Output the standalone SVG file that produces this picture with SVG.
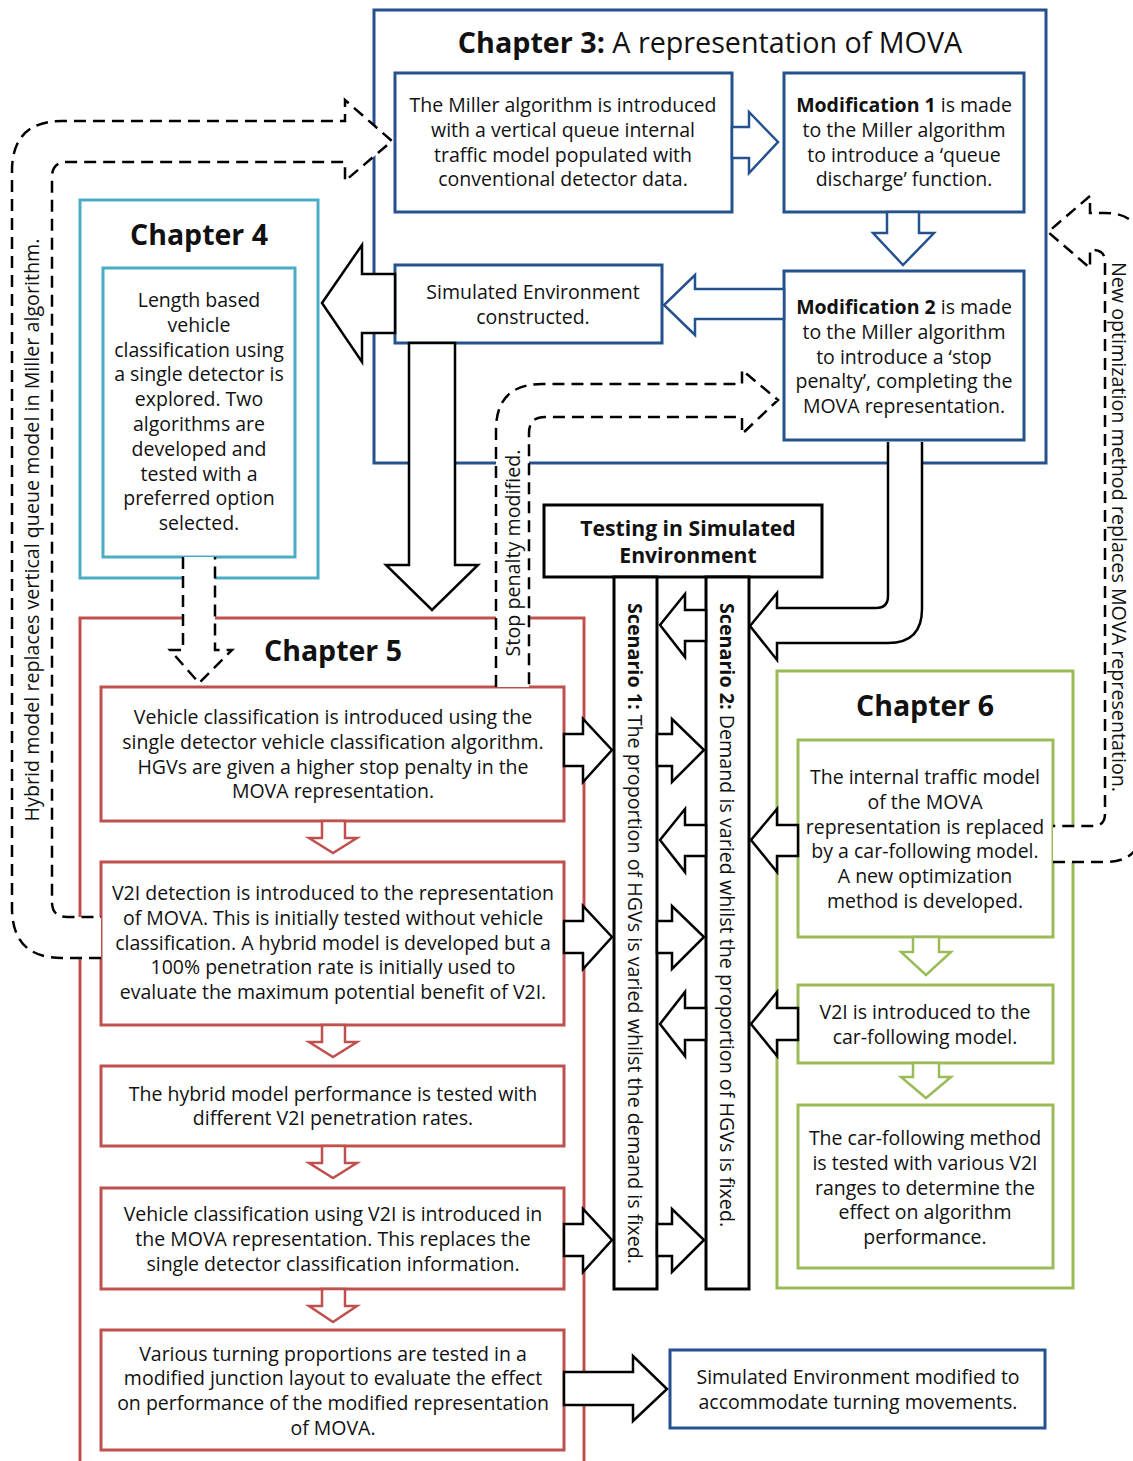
<svg xmlns="http://www.w3.org/2000/svg" width="1133" height="1461" viewBox="0 0 1133 1461">
  <style>
    text { font-family: "Open Sans", "Noto Sans", "DejaVu Sans", sans-serif; fill: #111; }
    .t { font-size: 19.5px; text-anchor: middle; }
    .b { font-weight: bold; }
    .title { font-size: 28.5px; font-weight: bold; text-anchor: middle; }
    .blue { fill: #fff; stroke: #25518f; stroke-width: 3; }
    .red { fill: #fff; stroke: #c0504d; stroke-width: 3; }
    .cyan { fill: #fff; stroke: #4bacc6; stroke-width: 3; }
    .green { fill: #fff; stroke: #9bbb59; stroke-width: 3; }
    .frame { fill: none; }
    .blk { fill: #fff; stroke: #000; stroke-width: 3; }
    .harrow { fill: #fff; stroke: #000; stroke-width: 2.5; stroke-linejoin: miter; }
    .barrow { fill: #fff; stroke: #25518f; stroke-width: 2.5; }
    .rarrow { fill: #fff; stroke: #c0504d; stroke-width: 2.5; }
    .garrow { fill: #fff; stroke: #9bbb59; stroke-width: 2.5; }
    .dash { fill: #fff; stroke: #000; stroke-width: 2.5; stroke-dasharray: 12 7; }
    .side { font-size: 19.7px; text-anchor: middle; }
    .scen { font-size: 19.7px; }
  </style>

  <rect width="1133" height="1461" fill="#fff"/>

  <!-- Chapter containers -->
  <g id="chapter3">
    <rect class="blue frame" x="374" y="10" width="672" height="453"/>
    <text x="710" y="53" font-size="28.7" text-anchor="middle"><tspan font-weight="bold">Chapter 3:</tspan> A representation of MOVA</text>
  </g>
  <g id="chapter4">
    <rect class="cyan frame" x="80" y="200" width="238" height="378"/>
    <text class="title" x="199" y="245">Chapter 4</text>
  </g>
  <g id="chapter5">
    <rect class="red frame" x="80" y="618" width="504" height="860"/>
    <text class="title" x="333" y="661">Chapter 5</text>
  </g>
  <g id="chapter6">
    <rect class="green frame" x="777" y="671" width="296" height="617"/>
    <text class="title" x="925" y="716">Chapter 6</text>
  </g>

  <!-- Chapter 3 steps -->
  <g id="miller">
    <rect class="blue" x="395" y="73" width="337" height="139"/>
    <text class="t" x="563" y="112">The Miller algorithm is introduced</text>
    <text class="t" x="563" y="136.8">with a vertical queue internal</text>
    <text class="t" x="563" y="161.6">traffic model populated with</text>
    <text class="t" x="563" y="186.4">conventional detector data.</text>
  </g>
  <g id="mod1">
    <rect class="blue" x="784" y="73" width="240" height="139"/>
    <text class="t" x="904" y="112"><tspan class="b">Modification 1</tspan> is made</text>
    <text class="t" x="904" y="136.8">to the Miller algorithm</text>
    <text class="t" x="904" y="161.6">to introduce a ‘queue</text>
    <text class="t" x="904" y="186.4">discharge’ function.</text>
  </g>
  <g id="mod2">
    <rect class="blue" x="784" y="271" width="240" height="169"/>
    <text class="t" x="904" y="314"><tspan class="b">Modification 2</tspan> is made</text>
    <text class="t" x="904" y="338.8">to the Miller algorithm</text>
    <text class="t" x="904" y="363.6">to introduce a ‘stop</text>
    <text class="t" x="904" y="388.4">penalty’, completing the</text>
    <text class="t" x="904" y="413.2">MOVA representation.</text>
  </g>
  <g id="simenv">
    <rect class="blue" x="395" y="265" width="267" height="78"/>
    <text class="t" x="533" y="299">Simulated Environment</text>
    <text class="t" x="533" y="324">constructed.</text>
  </g>

  <!-- Chapter 4 step -->
  <g id="ch4-classification">
    <rect class="cyan" x="103" y="268" width="192" height="289"/>
    <text class="t" x="199" y="307">Length based</text>
    <text class="t" x="199" y="331.8">vehicle</text>
    <text class="t" x="199" y="356.6">classification using</text>
    <text class="t" x="199" y="381.4">a single detector is</text>
    <text class="t" x="199" y="406.2">explored. Two</text>
    <text class="t" x="199" y="431">algorithms are</text>
    <text class="t" x="199" y="455.8">developed and</text>
    <text class="t" x="199" y="480.6">tested with a</text>
    <text class="t" x="199" y="505.4">preferred option</text>
    <text class="t" x="199" y="530.2">selected.</text>
  </g>

  <!-- Chapter 5 steps -->
  <g id="ch5-step1">
    <rect class="red" x="101" y="687" width="463" height="134"/>
    <text class="t" x="333" y="724">Vehicle classification is introduced using the</text>
    <text class="t" x="333" y="748.8">single detector vehicle classification algorithm.</text>
    <text class="t" x="333" y="773.6">HGVs are given a higher stop penalty in the</text>
    <text class="t" x="333" y="798.4">MOVA representation.</text>
  </g>
  <g id="ch5-step2">
    <rect class="red" x="101" y="862" width="463" height="163"/>
    <text class="t" x="333" y="900">V2I detection is introduced to the representation</text>
    <text class="t" x="333" y="924.8">of MOVA. This is initially tested without vehicle</text>
    <text class="t" x="333" y="949.6">classification. A hybrid model is developed but a</text>
    <text class="t" x="333" y="974.4">100% penetration rate is initially used to</text>
    <text class="t" x="333" y="999.2">evaluate the maximum potential benefit of V2I.</text>
  </g>
  <g id="ch5-step3">
    <rect class="red" x="101" y="1066" width="463" height="80"/>
    <text class="t" x="333" y="1100.6">The hybrid model performance is tested with</text>
    <text class="t" x="333" y="1125.4">different V2I penetration rates.</text>
  </g>
  <g id="ch5-step4">
    <rect class="red" x="101" y="1188" width="463" height="101"/>
    <text class="t" x="333" y="1221">Vehicle classification using V2I is introduced in</text>
    <text class="t" x="333" y="1245.8">the MOVA representation. This replaces the</text>
    <text class="t" x="333" y="1270.6">single detector classification information.</text>
  </g>
  <g id="ch5-step5">
    <rect class="red" x="101" y="1330" width="463" height="120"/>
    <text class="t" x="333" y="1360.5">Various turning proportions are tested in a</text>
    <text class="t" x="333" y="1385.3">modified junction layout to evaluate the effect</text>
    <text class="t" x="333" y="1410.1">on performance of the modified representation</text>
    <text class="t" x="333" y="1434.9">of MOVA.</text>
  </g>

  <!-- Chapter 6 steps -->
  <g id="ch6-step1">
    <rect class="green" x="798" y="740" width="255" height="197"/>
    <text class="t" x="925" y="784">The internal traffic model</text>
    <text class="t" x="925" y="808.8">of the MOVA</text>
    <text class="t" x="925" y="833.6">representation is replaced</text>
    <text class="t" x="925" y="858.4">by a car-following model.</text>
    <text class="t" x="925" y="883.2">A new optimization</text>
    <text class="t" x="925" y="908">method is developed.</text>
  </g>
  <g id="ch6-step2">
    <rect class="green" x="798" y="985" width="255" height="78"/>
    <text class="t" x="925" y="1019">V2I is introduced to the</text>
    <text class="t" x="925" y="1044">car-following model.</text>
  </g>
  <g id="ch6-step3">
    <rect class="green" x="798" y="1105" width="255" height="163"/>
    <text class="t" x="925" y="1145">The car-following method</text>
    <text class="t" x="925" y="1169.8">is tested with various V2I</text>
    <text class="t" x="925" y="1194.6">ranges to determine the</text>
    <text class="t" x="925" y="1219.4">effect on algorithm</text>
    <text class="t" x="925" y="1244.2">performance.</text>
  </g>

  <!-- Testing -->
  <g id="testing">
    <rect class="blk" x="544" y="505" width="278" height="72"/>
    <text x="688" y="536" font-size="21.2" font-weight="bold" text-anchor="middle">Testing in Simulated</text>
    <text x="688" y="563" font-size="21.2" font-weight="bold" text-anchor="middle">Environment</text>
  </g>
  <g id="scenario1">
    <rect class="blk" x="614" y="577" width="43" height="712"/>
    <text class="scen" x="628" y="603" transform="rotate(90 628 603)"><tspan font-weight="bold">Scenario 1:</tspan> The proportion of HGVs is varied whilst the demand is fixed.</text>
  </g>
  <g id="scenario2">
    <rect class="blk" x="706" y="577" width="43" height="712"/>
    <text class="scen" x="720" y="603" transform="rotate(90 720 603)"><tspan font-weight="bold">Scenario 2:</tspan> Demand is varied whilst the proportion of HGVs is fixed.</text>
  </g>

  <g id="simenv-modified">
    <rect class="blue" x="670" y="1350" width="375" height="78"/>
    <text class="t" x="858" y="1384">Simulated Environment modified to</text>
    <text class="t" x="858" y="1409">accommodate turning movements.</text>
  </g>

  <!-- Connectors -->
  <g id="connectors">
    <!-- Chapter 3 flow -->
    <polygon class="barrow" points="732,127 749,127 749,112 778,142 749,173 749,158 732,158"/>
    <polygon class="barrow" points="887,212 887,233 873,233 903,265 934,233 919,233 919,212"/>
    <polygon class="barrow" points="784,289 695,289 695,275 664,305 695,335 695,319 784,319"/>

    <!-- Simulated environment outputs -->
    <polygon class="harrow" points="395,274 362,274 362,245 322,303 362,362 362,333 395,333"/>
    <polygon class="harrow" points="409,343 409,565 386,565 432,610 478,565 455,565 455,343"/>

    <!-- Modification 2 to scenario 2 -->
    <path class="harrow" d="M 888 442 V 596 Q 888 608 876 608 H 777 V 593 L 750 626 L 777 660 V 643 H 888 Q 922 643 922 609 V 442"/>

    <!-- Chapter 5 sequence -->
    <polygon class="rarrow" points="322,821 322,838 309,838 333,853 357,838 345,838 345,821"/>
    <polygon class="rarrow" points="322,1025 322,1042 309,1042 333,1057 357,1042 345,1042 345,1025"/>
    <polygon class="rarrow" points="322,1146 322,1163 309,1163 333,1178 357,1163 345,1163 345,1146"/>
    <polygon class="rarrow" points="322,1289 322,1306 309,1306 333,1322 357,1306 345,1306 345,1289"/>

    <!-- Chapter 6 sequence -->
    <polygon class="garrow" points="913,937 913,952 901,952 926,975 951,952 939,952 939,937"/>
    <polygon class="garrow" points="913,1063 913,1077 901,1077 926,1098 951,1077 939,1077 939,1063"/>

    <!-- Into scenario bars: rightward -->
    <polygon class="harrow" points="564,734 583,734 583,719 612,750 583,782 583,766 564,766"/>
    <polygon class="harrow" points="657,734 672,734 672,719 704,750 672,782 672,766 657,766"/>
    <polygon class="harrow" points="564,921 583,921 583,906 612,937 583,969 583,953 564,953"/>
    <polygon class="harrow" points="657,921 672,921 672,906 704,937 672,969 672,953 657,953"/>
    <polygon class="harrow" points="564,1224 583,1224 583,1209 612,1240 583,1272 583,1256 564,1256"/>
    <polygon class="harrow" points="657,1224 672,1224 672,1209 704,1240 672,1272 672,1256 657,1256"/>

    <!-- Between bars: leftward -->
    <polygon class="harrow" points="706,610 685,610 685,594 660,625 685,657 685,641 706,641"/>
    <polygon class="harrow" points="706,825 685,825 685,809 660,840 685,872 685,856 706,856"/>
    <polygon class="harrow" points="706,1008 685,1008 685,992 660,1024 685,1056 685,1040 706,1040"/>

    <!-- Chapter 6 into scenario 2 -->
    <polygon class="harrow" points="798,825 777,825 777,809 751,840 777,872 777,856 798,856"/>
    <polygon class="harrow" points="798,1008 777,1008 777,992 751,1024 777,1056 777,1040 798,1040"/>

    <!-- Step 5 to modified environment -->
    <polygon class="harrow" points="564,1372 633,1372 633,1356 667,1389 633,1421 633,1405 564,1405"/>

    <!-- Dashed feedback links -->
    <path class="dash" d="M 101 958 H 62 Q 12 958 12 908 V 171 Q 12 121 62 121 H 345 V 100 L 392 141 L 345 181 V 162 H 67 Q 52 162 52 177 V 902 Q 52 917 67 917 H 101"/>
    <text class="side" x="39" y="530" transform="rotate(-90 39 530)">Hybrid model replaces vertical queue model in Miller algorithm.</text>

    <path class="dash" d="M 496 687 V 430 Q 496 384 542 384 H 742 V 370 L 778 400 L 742 434 V 417 H 545 Q 529 417 529 433 V 687"/>
    <text class="side" x="520" y="553" transform="rotate(-90 520 553)">Stop penalty modified.</text>

    <path class="dash" d="M 183 557 V 650 H 170 L 199 683 L 232 650 H 215 V 557"/>

    <path class="dash" d="M 1053 862 H 1105 Q 1142 862 1142 825 V 250 Q 1142 213 1105 213 H 1090 V 196 L 1048 232 L 1090 268 V 250 H 1093 Q 1105 250 1105 262 V 814 Q 1105 826 1093 826 H 1053"/>
    <text class="side" x="1112" y="527" transform="rotate(90 1112 527)">New optimization method replaces MOVA representation.</text>
  </g>
</svg>
